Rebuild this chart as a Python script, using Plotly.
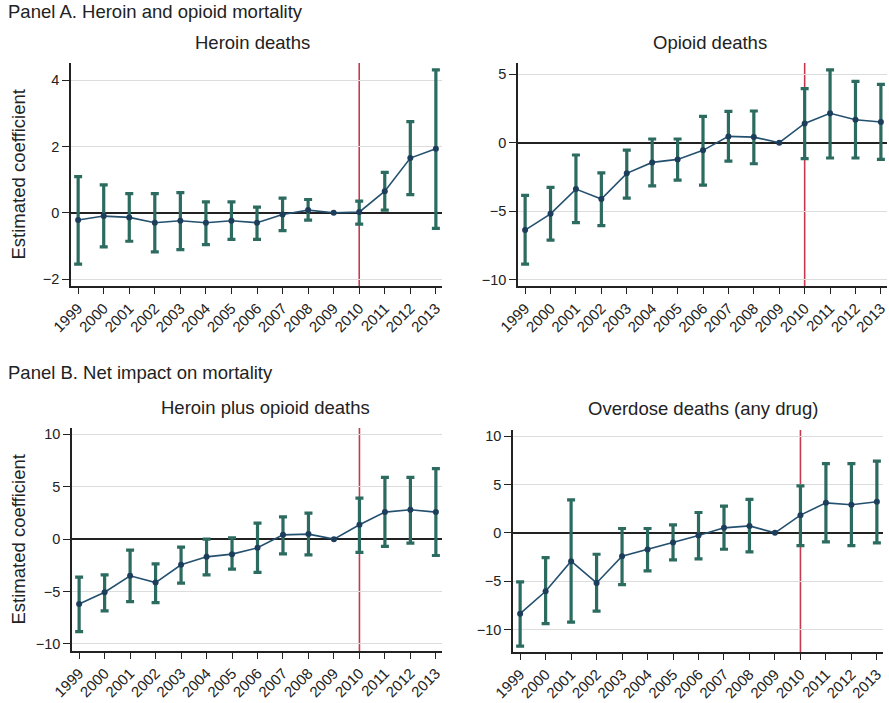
import plotly.graph_objects as go

years = list(range(1999, 2014))

# Event-study coefficients with 95% confidence bounds (2009 is the omitted year)
heroin_coef = [-0.22, -0.10, -0.14, -0.30, -0.24, -0.30, -0.24, -0.30, -0.05, 0.08, 0.0, 0.02, 0.65, 1.65, 1.93]
heroin_hi = [1.09, 0.84, 0.58, 0.58, 0.61, 0.33, 0.33, 0.17, 0.44, 0.40, 0.0, 0.35, 1.22, 2.75, 4.31]
heroin_lo = [-1.55, -1.03, -0.86, -1.18, -1.11, -0.96, -0.80, -0.80, -0.54, -0.22, 0.0, -0.34, 0.08, 0.55, -0.47]

opioid_coef = [-6.39, -5.20, -3.39, -4.12, -2.24, -1.44, -1.22, -0.56, 0.46, 0.41, 0.0, 1.41, 2.15, 1.68, 1.51]
opioid_hi = [-3.85, -3.27, -0.90, -2.20, -0.54, 0.27, 0.27, 1.93, 2.29, 2.32, 0.0, 3.95, 5.32, 4.49, 4.27]
opioid_lo = [-8.88, -7.12, -5.85, -6.07, -4.05, -3.15, -2.73, -3.10, -1.34, -1.54, 0.0, -1.17, -1.12, -1.12, -1.22]

combined_coef = [-6.18, -5.06, -3.50, -4.14, -2.45, -1.69, -1.43, -0.83, 0.41, 0.48, 0.0, 1.37, 2.58, 2.80, 2.58]
combined_hi = [-3.63, -3.41, -1.05, -2.36, -0.76, 0.00, 0.13, 1.53, 2.13, 2.48, 0.0, 3.92, 5.89, 5.89, 6.72]
combined_lo = [-8.82, -6.85, -5.96, -6.05, -4.20, -3.41, -2.87, -3.18, -1.40, -1.50, 0.0, -1.27, -0.70, -0.38, -1.56]

overdose_coef = [-8.34, -6.03, -2.93, -5.17, -2.41, -1.72, -1.00, -0.28, 0.52, 0.72, 0.0, 1.83, 3.10, 2.90, 3.21]
overdose_hi = [-5.07, -2.55, 3.41, -2.21, 0.45, 0.45, 0.83, 2.10, 2.76, 3.45, 0.0, 4.86, 7.14, 7.14, 7.41]
overdose_lo = [-11.69, -9.38, -9.21, -8.07, -5.34, -3.93, -2.79, -2.69, -1.69, -1.97, 0.0, -1.31, -0.93, -1.31, -1.03]

panel_titles = ["Heroin deaths", "Opioid deaths", "Heroin plus opioid deaths", "Overdose deaths (any drug)"]
section_titles = ["Panel A. Heroin and opioid mortality", "Panel B. Net impact on mortality"]
y_title = "Estimated coefficient"
y_tick_sets = [[-2, 0, 2, 4], [-10, -5, 0, 5], [-10, -5, 0, 5, 10], [-10, -5, 0, 5, 10]]
y_ranges = [[-2.21, 4.52], [-10.48, 5.83], [-10.67, 10.6], [-12.3, 10.62]]
policy_year = 2010

W, H = 889, 703
# panel boxes in pixels: (left, right, top, bottom)
boxes = [(71, 442, 63, 286), (518, 887, 63, 286), (72, 442, 428, 651), (513, 883, 430, 652)]
# subtitle centres in pixels
title_pos = [(252, 43), (710, 43), (265, 407), (703, 408)]

series = [
    (heroin_coef, heroin_lo, heroin_hi),
    (opioid_coef, opioid_lo, opioid_hi),
    (combined_coef, combined_lo, combined_hi),
    (overdose_coef, overdose_lo, overdose_hi),
]

BAR = "#2c6b5f"
LINE = "#23506f"
MARK = "#1c3e5c"
RED = "#c8384f"
TXT = "#222222"
FONT = "Liberation Sans, Arial, sans-serif"

fig = go.Figure()
layout = dict(
    width=W, height=H, margin=dict(l=0, r=0, t=0, b=0, autoexpand=False),
    paper_bgcolor="white", plot_bgcolor="white",
    showlegend=False, font=dict(family=FONT, color=TXT),
)
annotations = []
shapes = []

for i, ((coef, lo, hi), (l, r, t, b)) in enumerate(zip(series, boxes)):
    n = i + 1
    xa = "x" if n == 1 else f"x{n}"
    ya = "y" if n == 1 else f"y{n}"
    keep = [k for k, yr in enumerate(years) if yr != 2009]
    xs = [years[k] for k in keep]
    cs = [coef[k] for k in keep]
    up = [hi[k] - coef[k] for k in keep]
    dn = [coef[k] - lo[k] for k in keep]

    # confidence intervals drawn as capped bars
    fig.add_trace(go.Scatter(
        x=xs, y=cs, mode="markers", xaxis=xa, yaxis=ya,
        marker=dict(size=1, color="rgba(0,0,0,0)"),
        error_y=dict(type="data", symmetric=False, array=up, arrayminus=dn,
                     color=BAR, thickness=3.2, width=4),
        hoverinfo="skip",
    ))
    # point estimates connected by a line
    fig.add_trace(go.Scatter(
        x=years, y=coef, mode="lines+markers", xaxis=xa, yaxis=ya,
        line=dict(color=LINE, width=1.6),
        marker=dict(color=MARK, size=6),
    ))

    xkey = "xaxis" if n == 1 else f"xaxis{n}"
    ykey = "yaxis" if n == 1 else f"yaxis{n}"
    layout[xkey] = dict(
        domain=[l / W, r / W], anchor=ya, range=[1998.72, 2013.24],
        tickmode="array", tickvals=years, ticktext=[str(y) for y in years],
        tickangle=-45, ticks="outside", ticklen=6, tickcolor="#222",
        tickfont=dict(size=15, color=TXT, family=FONT),
        showline=True, linecolor="#222", linewidth=1.5,
        showgrid=False, zeroline=False, fixedrange=True, automargin=False,
    )
    layout[ykey] = dict(
        domain=[1 - b / H, 1 - t / H], anchor=xa, range=y_ranges[i],
        tickmode="array", tickvals=y_tick_sets[i],
        ticks="outside", ticklen=7, tickcolor="#222",
        tickfont=dict(size=14.5, color=TXT, family=FONT),
        showline=True, linecolor="#222", linewidth=1.5,
        showgrid=True, gridcolor="#dcdcdc", gridwidth=1.2,
        zeroline=True, zerolinecolor="#222", zerolinewidth=1.5,
        fixedrange=True, automargin=False,
    )

    # vertical reference line at the policy year
    shapes.append(dict(type="line", xref=xa, yref=f"{ya} domain", x0=policy_year, x1=policy_year,
                       y0=0, y1=1, line=dict(color=RED, width=1.6), layer="below"))

    tx, ty = title_pos[i]
    annotations.append(dict(
        text=panel_titles[i], xref="paper", yref="paper",
        x=tx / W, y=1 - ty / H, xanchor="center", yanchor="middle",
        showarrow=False, font=dict(size=18.5, color=TXT, family=FONT),
    ))
    if i % 2 == 0:
        annotations.append(dict(
            text=y_title, xref="paper", yref="paper", textangle=-90,
            x=18 / W, y=1 - ((t + b) / 2 - 0) / H, xanchor="center", yanchor="middle",
            showarrow=False, font=dict(size=18.5, color=TXT, family=FONT),
        ))

for j, txt in enumerate(section_titles):
    ypix = 12 if j == 0 else 372
    annotations.append(dict(
        text=txt, xref="paper", yref="paper", x=6 / W, y=1 - ypix / H,
        xanchor="left", yanchor="middle", showarrow=False,
        font=dict(size=18.5, color=TXT, family=FONT),
    ))

layout["annotations"] = annotations
layout["shapes"] = shapes
fig.update_layout(**layout)
fig.write_html("out.html")
